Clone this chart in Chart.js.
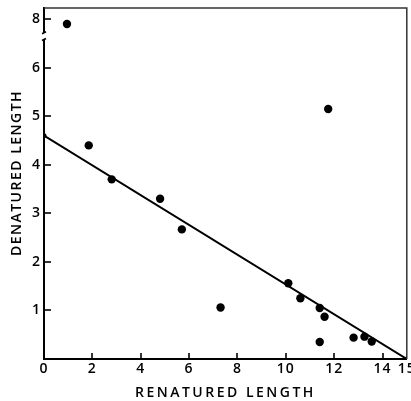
<!DOCTYPE html>
<html lang="en">
<head>
  <meta charset="UTF-8">
  <title>Denatured vs Renatured Length</title>
  <style>
    * { box-sizing: border-box; margin: 0; padding: 0; }
    body { background: #fff; width: 411px; height: 401px; overflow: hidden; }
  </style>
</head>
<body>
  <canvas id="chart" width="411" height="401"></canvas>

  <script src="https://cdn.jsdelivr.net/npm/chart.js@4/dist/chart.umd.min.js"></script>
  <script>
    // measured points
    const renatured = [0.95, 1.85, 2.8, 4.8, 5.7, 7.3, 10.1, 10.6, 11.4, 11.6, 11.75, 11.4, 12.8, 13.25, 13.55];
    const denatured = [7.9, 4.4, 3.7, 3.3, 2.67, 1.06, 1.56, 1.25, 1.05, 0.87, 5.15, 0.35, 0.44, 0.46, 0.36];

    // fitted line
    const fitX = [0, 15];
    const fitY = [4.6, 0];

    const xTicks = [0, 2, 4, 6, 8, 10, 12, 14, 15];
    const yTicks = [1, 2, 3, 4, 5, 6, 8];

    // y axis is broken between 6 and 8: everything above the break moves down one unit
    const BREAK_AT  = 6.5;
    const BREAK_GAP = 1;
    const toScale   = v => v > BREAK_AT ? v - BREAK_GAP : v;
    const fromScale = v => v > BREAK_AT ? v + BREAK_GAP : v;

    const pointData = renatured.map((x, i) => ({ x: x, y: toScale(denatured[i]) }));
    const lineData  = fitX.map((x, i) => ({ x: x, y: toScale(fitY[i]) }));

    const FONT = { family: 'Open Sans', size: 14, weight: '600' };

    const framePlugin = {
      id: 'frame',
      beforeDraw(chart) {
        chart.ctx.letterSpacing = '1px';
      },
      afterDraw(chart) {
        const ctx = chart.ctx;
        const a = chart.chartArea;
        const xs = chart.scales.x;
        const ys = chart.scales.y;

        ctx.save();
        ctx.letterSpacing = '0px';
        // top and right edges of the box
        ctx.strokeStyle = '#333';
        ctx.lineWidth = 1.5;
        ctx.beginPath();
        ctx.moveTo(a.left, a.top);
        ctx.lineTo(a.right, a.top);
        ctx.lineTo(a.right, a.bottom);
        ctx.stroke();
        ctx.restore();

        // inward tick marks
        ctx.save();
        ctx.strokeStyle = '#000';
        ctx.lineWidth = 1.6;
        for (const v of yTicks) {
          const py = Math.round(ys.getPixelForValue(toScale(v)));
          ctx.beginPath();
          ctx.moveTo(a.left - 1, py);
          ctx.lineTo(a.left + 7, py);
          ctx.stroke();
        }
        for (const v of xTicks) {
          if (v === 0 || v === 15) continue;
          const px = Math.round(xs.getPixelForValue(v));
          ctx.beginPath();
          ctx.moveTo(px, a.bottom);
          ctx.lineTo(px, a.bottom - 6);
          ctx.stroke();
        }

        // axis break marks
        const gTop = ys.getPixelForValue(6.72);
        const gBot = ys.getPixelForValue(6.58);
        ctx.fillStyle = '#fff';
        ctx.fillRect(a.left - 2, gTop, 4, gBot - gTop);
        ctx.beginPath();
        ctx.moveTo(a.left - 2, gTop + 1);
        ctx.lineTo(a.left + 2, gTop - 1);
        ctx.moveTo(a.left - 2, gBot + 1);
        ctx.lineTo(a.left + 2, gBot - 1);
        ctx.stroke();
        ctx.restore();

        // axis titles
        ctx.save();
        ctx.fillStyle = '#000';
        ctx.font = '600 14px "Open Sans"';
        ctx.letterSpacing = '2.5px';
        ctx.textAlign = 'center';
        ctx.textBaseline = 'middle';
        ctx.fillText('RENATURED LENGTH', (a.left + a.right) / 2, 393);

        ctx.translate(17.5, 173);
        ctx.rotate(-Math.PI / 2);
        ctx.letterSpacing = '1.5px';
        ctx.fillText('DENATURED LENGTH', 0, 0);
        ctx.restore();
      }
    };

    new Chart(document.getElementById('chart'), {
      type: 'scatter',
      data: {
        datasets: [
          {
            label: 'Fit',
            data: lineData,
            showLine: true,
            borderColor: '#000',
            borderWidth: 2,
            pointRadius: 2.5,
            pointBackgroundColor: '#000',
            pointBorderWidth: 0,
            order: 2
          },
          {
            label: 'Molecules',
            data: pointData,
            pointRadius: 4.2,
            pointBackgroundColor: '#000',
            pointBorderWidth: 0,
            order: 1
          }
        ]
      },
      options: {
        responsive: false,
        animation: false,
        devicePixelRatio: 1,
        layout: { padding: { top: 8, right: 4, left: 0, bottom: 0 } },
        plugins: {
          legend: { display: false },
          tooltip: { enabled: false }
        },
        scales: {
          x: {
            type: 'linear',
            min: 0,
            max: 15,
            afterBuildTicks: s => { s.ticks = xTicks.map(v => ({ value: v })); },
            afterFit: s => { s.height = 42; s.paddingLeft = 0; s.paddingRight = 0; },
            ticks: {
              color: '#000',
              font: FONT,
              padding: 2,
              maxRotation: 0,
              autoSkip: false,
              callback: v => String(v)
            },
            grid: { display: false, drawTicks: false },
            border: { display: true, color: '#000', width: 2 }
          },
          y: {
            type: 'linear',
            min: 0,
            max: 7.23,
            afterBuildTicks: s => { s.ticks = yTicks.map(v => ({ value: toScale(v) })); },
            afterFit: s => { s.width = 44; s.paddingTop = 0; s.paddingBottom = 0; },
            ticks: {
              color: '#000',
              font: FONT,
              padding: 3,
              autoSkip: false,
              callback: v => String(Math.round(fromScale(v)))
            },
            grid: { display: false, drawTicks: false },
            border: { display: true, color: '#000', width: 2 }
          }
        }
      },
      plugins: [framePlugin]
    });
  </script>
</body>
</html>
